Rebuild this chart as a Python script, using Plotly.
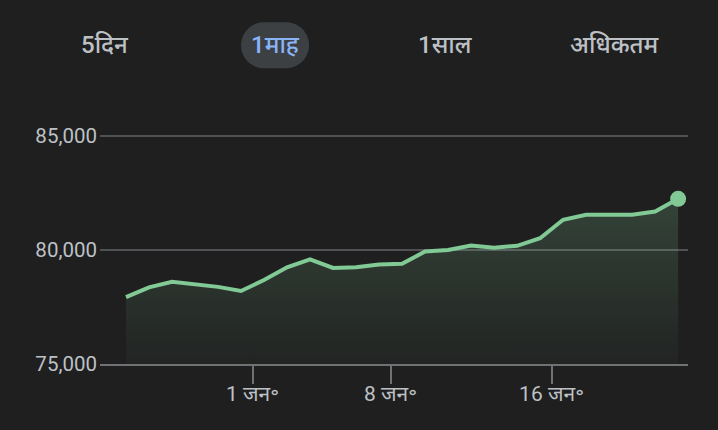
import plotly.graph_objects as go

# ---- data ----
idx = list(range(25))
values = [77930, 78360, 78600, 78510, 78380, 78200, 78680, 79240, 79590, 79210,
          79240, 79360, 79390, 79930, 80000, 80190, 80100, 80180, 80510, 81320,
          81540, 81540, 81540, 81680, 82240]
x_tick_pos = [5.5, 11.5, 18.5]
x_tick_text = ["1 जन॰", "8 जन॰", "16 जन॰"]
y_ticks = [75000, 80000, 85000]
y_tick_text = ["75,000", "80,000", "85,000"]
buttons = ["5दिन", "1माह", "1साल", "अधिकतम"]
active_button = "1माह"

W, H = 718, 430
L, R, T, B = 100, 30, 113.2, 66
PW, PH = W - L - R, H - T - B

def px_x(p):
    return (p - L) / PW

def px_y(p):
    return (H - B - p) / PH

BG = "#1f1f1f"
GREEN = "#81c995"
GRID = "#4f5155"
AXIS = "#6f7175"
TXT = "#bdc1c6"

fig = go.Figure()
fig.add_trace(go.Scatter(
    x=idx, y=values, mode="lines",
    line=dict(color=GREEN, width=4),
    fill="tozeroy",
    fillgradient=dict(type="vertical",
                      colorscale=[[0, "rgba(129,201,149,0.03)"], [1, "rgba(129,201,149,0.21)"]],
                      start=75000, stop=82240),
    hoverinfo="skip", showlegend=False,
))
fig.add_trace(go.Scatter(
    x=[idx[-1]], y=[values[-1]], mode="markers",
    marker=dict(color=GREEN, size=16),
    hoverinfo="skip", showlegend=False,
))

# pill behind active button
k = 0.5523
r = 23
hw = 34 - r
path = (f"M {-hw},{-r} L {hw},{-r} "
        f"C {hw + k*r},{-r} {hw + r},{-k*r} {hw + r},0 "
        f"C {hw + r},{k*r} {hw + k*r},{r} {hw},{r} "
        f"L {-hw},{r} "
        f"C {-hw - k*r},{r} {-hw - r},{k*r} {-hw - r},0 "
        f"C {-hw - r},{-k*r} {-hw - k*r},{-r} {-hw},{-r} Z")
button_centers = [105, 275, 445, 615]
shapes = []
annotations = []
for name, cx in zip(buttons, button_centers):
    active = name == active_button
    if active:
        shapes.append(dict(type="path", xref="paper", yref="paper",
                           xsizemode="pixel", ysizemode="pixel",
                           xanchor=px_x(cx), yanchor=px_y(45.5),
                           path=path, fillcolor="#3c4043", line=dict(width=0),
                           layer="below"))
    annotations.append(dict(
        text=name, x=px_x(cx), y=px_y(45), xref="paper", yref="paper",
        showarrow=False, xanchor="center", yanchor="middle",
        font=dict(family="Roboto, Noto Sans, sans-serif", size=24,
                  color="#8ab4f8" if active else TXT, weight=500),
    ))

fig.update_layout(
    width=W, height=H,
    margin=dict(l=L, r=R, t=T, b=B, pad=0),
    paper_bgcolor=BG, plot_bgcolor=BG,
    font=dict(family="Roboto, Noto Sans, sans-serif", color=TXT, size=20),
    shapes=shapes, annotations=annotations,
    xaxis=dict(
        range=[-1.13, 24.43], showgrid=False, zeroline=False,
        showline=True, linecolor=AXIS, linewidth=2,
        tickmode="array", tickvals=x_tick_pos, ticktext=x_tick_text,
        ticks="outside", ticklen=18, tickwidth=1.5, tickcolor=AXIS,
        ticklabelstandoff=-8,
        tickfont=dict(size=21, color=TXT),
    ),
    yaxis=dict(
        range=[75000, 86000], showgrid=True, gridcolor=GRID, gridwidth=1.5,
        zeroline=False, showline=False,
        tickmode="array", tickvals=y_ticks, ticktext=y_tick_text,
        ticks="", ticklabelstandoff=2,
        tickfont=dict(size=20.5, color=TXT),
    ),
)

fig.write_html("out.html")
